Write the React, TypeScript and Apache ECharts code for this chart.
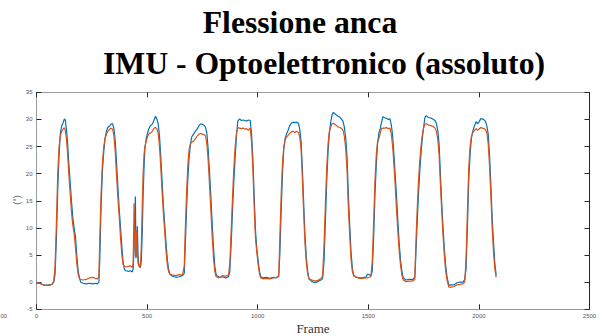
import { useEffect, useRef } from "react";
import * as echarts from "echarts";

// Hip flexion angle over the acquisition frames: IMU estimate vs optoelectronic reference.
const frames = [
  0, 12, 25, 40, 55, 70, 78,
  84, 90, 96, 102, 108, 114, 120, 126, 130, 135, 140, 146, 152, 158, 164, 170, 176, 182, 188, 194, 200,
  210, 225, 240, 255, 265, 275, 282,
  286, 292, 298, 304, 310, 316, 322, 330, 338, 344, 350, 356, 362, 368, 374, 380, 386, 392, 398,
  405, 415, 425, 433, 437, 441, 444, 447, 450, 453, 456, 459, 462, 466, 470, 474,
  478, 482, 486, 490, 496, 502, 508, 514, 520, 526, 532, 538, 544, 550, 556, 562, 568, 574, 580, 586, 592, 598, 604,
  615, 630, 645, 660, 668,
  672, 678, 684, 690, 696, 702, 710, 718, 726, 734, 742, 750, 758, 764, 770, 776, 782, 788, 794, 800, 806, 812,
  825, 840, 855, 868,
  874, 880, 886, 892, 898, 904, 910, 918, 926, 934, 942, 950, 958, 966, 972, 978, 984, 990, 996, 1002, 1008, 1014,
  1025, 1040, 1055, 1070, 1085, 1095,
  1100, 1106, 1112, 1118, 1124, 1130, 1136, 1144, 1152, 1160, 1168, 1176, 1184, 1190, 1196, 1202, 1208, 1214, 1220, 1226, 1232,
  1245, 1260, 1275, 1290,
  1294, 1300, 1306, 1312, 1318, 1324, 1330, 1336, 1342, 1348, 1356, 1364, 1372, 1380, 1386, 1392, 1398, 1404, 1410, 1416, 1422, 1428, 1434,
  1445, 1460, 1475, 1490, 1496, 1504, 1512,
  1518, 1524, 1530, 1536, 1542, 1548, 1554, 1560, 1566, 1574, 1582, 1590, 1598, 1604, 1610, 1616, 1622, 1628, 1634, 1640, 1646, 1652, 1658,
  1670, 1685, 1700, 1710,
  1714, 1720, 1726, 1732, 1738, 1744, 1750, 1756, 1762, 1770, 1778, 1786, 1794, 1802, 1808, 1814, 1820, 1826, 1832, 1838, 1844, 1850, 1856,
  1864, 1875, 1888, 1900, 1915, 1928, 1936,
  1942, 1948, 1954, 1960, 1966, 1972, 1980, 1988, 1994, 2000, 2008, 2016, 2024, 2030, 2036, 2042, 2048, 2054, 2060, 2066, 2072, 2078,
];

// IMU (blue)
const imuDeg = [
  -0.3, -0.1, -0.4, -0.6, -0.5, -0.4, 0.0,
  1.5, 8, 17, 23.5, 27.5, 28.8, 29.4, 30.1, 29.9, 28.3, 26, 22, 18.5, 15, 12, 10, 8.5, 5, 2.2, 0.8, 0.0,
  -0.2, -0.3, -0.2, -0.3, -0.2, -0.3, 0.0,
  4, 14, 20.5, 24, 26.5, 27.8, 28.5, 28.8, 29.2, 29.2, 28.3, 26, 22, 17.5, 13.5, 10, 6.5, 3.5, 2.3,
  2.1, 2.0, 2.1, 1.9, 2.5, 6, 12, 15.8, 4.5, 6, 10.3, 5, 3.5, 2.8, 2.7, 4,
  9, 16, 21, 24.5, 26.5, 27.5, 28.3, 28.8, 29.0, 29.3, 30.0, 30.6, 30.1, 29.2, 27, 23, 18.5, 14, 10.5, 7, 4, 2.2, 1.4,
  1.1, 0.9, 1.0, 1.2, 1.6,
  6, 13, 19, 23, 25.5, 26.8, 27.3, 27.8, 28.2, 28.8, 29.2, 29.1, 28.9, 28.6, 27.5, 24.5, 20.5, 16, 11, 6.5, 3, 1.4,
  0.9, 1.0, 0.8, 1.0,
  2, 7, 13, 18.5, 23, 27, 29.7, 30.1, 29.8, 29.9, 29.8, 29.7, 29.9, 29.8, 27.5, 23, 16, 9.5, 6.2, 4, 2, 1.0,
  0.8, 0.9, 0.7, 0.9, 0.8, 1.2,
  5, 13, 20, 24.5, 26.5, 27.3, 27.8, 28.8, 29.3, 29.5, 29.4, 29.5, 29.3, 28.2, 26, 21, 14.5, 8.5, 4.5, 2, 0.6,
  0.1, -0.1, 0.2, 0.5,
  0.8, 4, 11, 18.5, 24, 27.5, 29.5, 30.8, 31.3, 31.1, 30.8, 30.6, 30.4, 30.0, 29.6, 28.5, 26.5, 23, 16, 10.5, 5.5, 2.5, 1.3,
  0.9, 0.8, 0.8, 1.0, 1.5, 1.4, 1.2,
  2, 8, 16, 21.5, 25.5, 27.5, 28.3, 29.5, 30.5, 30.3, 30.2, 30.0, 30.1, 29, 27, 23.5, 19.5, 15.5, 11, 7, 4, 2, 0.8,
  0.4, 0.5, 0.5, 0.8,
  4, 10, 15.5, 20, 23.5, 26.5, 28.5, 30.4, 30.7, 30.4, 30.3, 30.2, 30.0, 29.8, 29.2, 28, 25.5, 20, 14.5, 10, 6, 3, 1.0,
  -0.6, -0.5, -0.5, -0.1, 0.0, 0.0, 0.5,
  2.5, 10, 18.5, 23.5, 26.5, 27.8, 28.8, 29.6, 29.2, 29.5, 30.1, 30.1, 29.9, 29.6, 28.8, 27.3, 23.5, 18, 12, 7.5, 3.5, 1.3,
];

// Optoelettronico (orange)
const optoDeg = [
  0.0, -0.2, -0.4, -0.6, -0.6, -0.4, 0.2,
  3, 11, 20, 25, 27, 27.8, 28.2, 28.5, 28, 26.5, 24, 20, 16.5, 13, 10.5, 9, 6.5, 3.5, 1.5, 0.7, 0.5,
  0.4, 0.5, 0.8, 0.9, 0.7, 0.6, 1.0,
  8, 16.5, 22, 25, 26.5, 27.2, 27.8, 28.2, 28.4, 28.2, 27, 24, 19.5, 15.5, 12, 8, 5, 3.2, 2.9,
  2.8, 2.9, 3.0, 2.7, 3.5, 14.5, 8, 5, 4.5, 9.5, 6, 3.5, 3, 2.8, 3.0, 7,
  14, 20, 23.5, 25, 26, 26.8, 27.3, 27.5, 27.6, 28.0, 28.4, 28.5, 28.3, 27.5, 25, 21, 16.5, 12.5, 9, 5.5, 3, 1.8, 1.5,
  1.3, 1.2, 1.4, 1.3, 3,
  9, 16, 21.5, 24.5, 25.5, 25.8, 26.0, 26.4, 26.9, 27.3, 27.4, 27.3, 27.2, 27, 25.5, 22.5, 18, 13.5, 8.5, 4.5, 2, 1.0,
  0.8, 1.2, 1.1, 1.3,
  3.5, 9.5, 15.5, 21, 25, 27.5, 28.5, 28.4, 28.3, 28.4, 28.2, 28.3, 28.0, 28.4, 26, 21, 14, 8, 5.5, 3.2, 1.5, 0.8,
  0.6, 0.7, 0.6, 0.8, 0.9, 1.0,
  8, 16, 22, 25, 26.2, 26.8, 27, 27.4, 27.7, 27.8, 27.6, 27.8, 27.6, 26.8, 24.5, 19, 12.5, 7, 3.5, 1.5, 0.6,
  0.4, 0.2, 0.4, 0.8,
  1.5, 7, 14.5, 21, 25.5, 27.8, 28.6, 29.2, 29.3, 29.1, 28.9, 28.6, 28.5, 28.3, 28, 26.8, 24.5, 20.5, 13.5, 8.5, 4.2, 2, 1.1,
  1.0, 0.7, 0.7, 0.8, 0.8, 0.9, 1.0,
  4, 11, 18.5, 23.5, 26, 26.5, 27.5, 28.3, 28.4, 28.4, 28.5, 28.3, 28.4, 27.3, 25, 21.5, 17.5, 13, 9, 5.5, 3, 1.3, 0.4,
  0.1, 0.2, 0.2, 0.5,
  6, 12.5, 18, 22, 25, 27, 28.5, 29.1, 29.2, 29.0, 28.9, 28.8, 28.7, 28.4, 27.8, 26.3, 23.5, 18, 13, 8.5, 4.8, 2, 0.4,
  -0.9, -0.9, -0.8, -0.5, -0.4, -0.3, 0.0,
  4.5, 13, 21, 25, 26.8, 27.5, 28, 28.3, 28.0, 28.2, 28.5, 28.4, 28.3, 28.1, 27.5, 25.5, 21.5, 16, 10, 5.5, 2.5, 0.9,
];

const titleLines = ["Flessione anca", "IMU - Optoelettronico (assoluto)"];
const xLabel = "Frame";
const yLabel = "(°)";
const edgeLabel = "00";
const xRange = [0, 2500];
const yRange = [-5, 35];

const BLUE = "#0072BD";
const ORANGE = "#D95319";

export default function App() {
  const ref = useRef<HTMLDivElement>(null);

  useEffect(() => {
    if (!ref.current) return;
    const chart = echarts.init(ref.current, undefined, { renderer: "svg" });

    const plainNumber = (v: number) => String(v);
    const tickFont = { fontSize: 6, color: "#555", fontFamily: "Liberation Sans", formatter: plainNumber };
    const boxLine = { show: true, onZero: false, lineStyle: { color: "#9a9a9a", width: 1 } };
    const innerTick = { show: true, inside: true, length: 5, lineStyle: { color: "#262626", width: 1 } };

    chart.setOption({
      animation: false,
      backgroundColor: "#ffffff",
      grid: {
        left: 36.5,
        right: 14.5,
        top: 92.3,
        bottom: 26.7,
        containLabel: false,
        outerBoundsMode: "none",
      },
      xAxis: [
        {
          type: "value",
          position: "bottom",
          min: xRange[0],
          max: xRange[1],
          interval: 500,
          axisLine: boxLine,
          axisTick: innerTick,
          axisLabel: { ...tickFont, margin: 4 },
          splitLine: { show: false },
        },
        {
          type: "value",
          position: "top",
          min: xRange[0],
          max: xRange[1],
          interval: 500,
          axisLine: boxLine,
          axisTick: innerTick,
          axisLabel: { show: false },
          splitLine: { show: false },
        },
      ],
      yAxis: [
        {
          type: "value",
          position: "left",
          min: yRange[0],
          max: yRange[1],
          interval: 5,
          axisLine: boxLine,
          axisTick: innerTick,
          axisLabel: { ...tickFont, margin: 4 },
          splitLine: { show: false },
        },
        {
          type: "value",
          position: "right",
          min: yRange[0],
          max: yRange[1],
          interval: 5,
          axisLine: { show: true, onZero: false, lineStyle: { color: "#262626", width: 1 } },
          axisTick: innerTick,
          axisLabel: { show: false },
          splitLine: { show: false },
        },
      ],
      series: [
        {
          name: "IMU",
          type: "line",
          xAxisIndex: 0,
          yAxisIndex: 0,
          data: frames.map((f, i) => [f, imuDeg[i]]),
          showSymbol: false,
          lineStyle: { color: BLUE, width: 1.2 },
          itemStyle: { color: BLUE },
        },
        {
          name: "Optoelettronico",
          type: "line",
          xAxisIndex: 0,
          yAxisIndex: 0,
          data: frames.map((f, i) => [f, optoDeg[i]]),
          showSymbol: false,
          lineStyle: { color: ORANGE, width: 1.2 },
          itemStyle: { color: ORANGE },
        },
      ],
      graphic: [
        {
          type: "text",
          x: 300,
          y: 22,
          style: {
            text: titleLines[0],
            font: "bold 31.7px 'Liberation Serif'",
            fill: "#000",
            textAlign: "center",
            textVerticalAlign: "middle",
          },
        },
        {
          type: "text",
          x: 324,
          y: 63,
          style: {
            text: titleLines[1],
            font: "bold 31.7px 'Liberation Serif'",
            fill: "#000",
            textAlign: "center",
            textVerticalAlign: "middle",
          },
        },
        {
          type: "text",
          x: 313,
          y: 328,
          style: {
            text: xLabel,
            font: "13px 'Liberation Serif'",
            fill: "#333",
            textAlign: "center",
            textVerticalAlign: "middle",
          },
        },
        {
          type: "text",
          x: 17,
          y: 200,
          rotation: Math.PI / 2,
          style: {
            text: yLabel,
            font: "9px 'Liberation Sans'",
            fill: "#555",
            textAlign: "center",
            textVerticalAlign: "middle",
          },
        },
        {
          type: "text",
          x: 0.5,
          y: 316,
          style: {
            text: edgeLabel,
            font: "6px 'Liberation Sans'",
            fill: "#555",
            textAlign: "left",
            textVerticalAlign: "middle",
          },
        },
      ],
    });

    return () => chart.dispose();
  }, []);

  return (
    <div
      ref={ref}
      style={{ position: "fixed", left: 0, top: 0, width: 604, height: 336, background: "#fff" }}
    />
  );
}
